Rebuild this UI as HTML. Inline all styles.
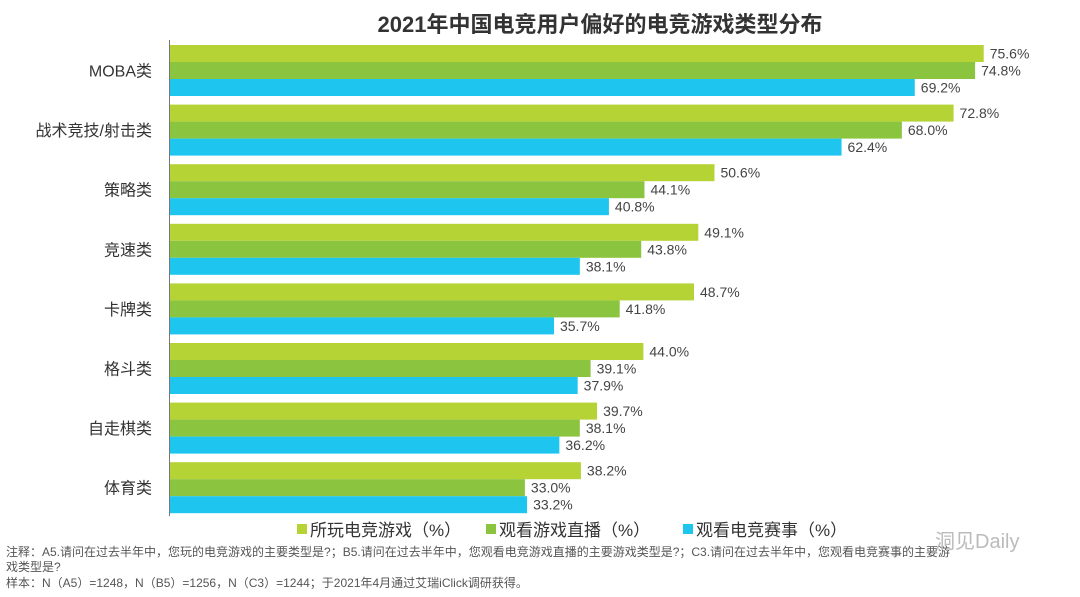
<!DOCTYPE html>
<html><head><meta charset="utf-8"><style>
body{margin:0;background:#fff;width:1080px;height:592px;overflow:hidden;font-family:"Liberation Sans","Noto Sans CJK SC",sans-serif;}
svg text{font-family:"Liberation Sans","Noto Sans CJK SC",sans-serif;}
</style></head><body>
<svg id="chart" width="1080" height="592">
<text x="600" y="32" text-anchor="middle" font-size="22" font-weight="bold" fill="#333">2021年中国电竞用户偏好的电竞游戏类型分布</text>
<g id="bars"></g>
<line x1="169.5" y1="40" x2="169.5" y2="516" stroke="#777" stroke-width="1"/>
<g font-size="17" fill="#333">
<rect x="297" y="524" width="10" height="10" fill="#b5d334"/>
<text x="310" y="536">所玩电竞游戏（%）</text>
<rect x="486" y="524" width="10" height="10" fill="#8bc43f"/>
<text x="499" y="536">观看游戏直播（%）</text>
<rect x="683" y="524" width="10" height="10" fill="#1ec6ef"/>
<text x="696" y="536">观看电竞赛事（%）</text>
</g>
<g font-size="12" fill="#555">
<text x="6" y="556">注释：A5.请问在过去半年中，您玩的电竞游戏的主要类型是?；B5.请问在过去半年中，您观看电竞游戏直播的主要游戏类型是?；C3.请问在过去半年中，您观看电竞赛事的主要游</text>
<text x="6" y="571">戏类型是?</text>
<text x="6" y="587">样本：N（A5）=1248，N（B5）=1256，N（C3）=1244；于2021年4月通过艾瑞iClick调研获得。</text>
</g>
<text x="935" y="548" font-size="20" fill="#bbb">洞见Daily</text>
</svg>
<script>
const categories=["MOBA类","战术竞技/射击类","策略类","竞速类","卡牌类","格斗类","自走棋类","体育类"];
const playValues=[75.6,72.8,50.6,49.1,48.7,44.0,39.7,38.2];
const streamValues=[74.8,68.0,44.1,43.8,41.8,39.1,38.1,33.0];
const esportsValues=[69.2,62.4,40.8,38.1,35.7,37.9,36.2,33.2];
const x0=169.5, pxPer=10.77, topY=45, pitch=59.6, bh=17;
const xScale=v=>v*pxPer;
const yScale=i=>topY+i*pitch;
const g=document.getElementById('bars');
const ns="http://www.w3.org/2000/svg";
const series=[[playValues,"#b5d334","play"],[streamValues,"#8bc43f","stream"],[esportsValues,"#1ec6ef","esports"]];
categories.forEach((c,i)=>{
  const t=document.createElementNS(ns,'text');
  t.setAttribute('x',152);t.setAttribute('y',yScale(i)+bh*1.5+6);
  t.setAttribute('text-anchor','end');t.setAttribute('font-size','16');t.setAttribute('fill','#333');
  t.textContent=c;
  
  
  g.appendChild(t);
  series.forEach((s,j)=>{
    const v=s[0][i];const y=yScale(i)+j*bh;
    const r=document.createElementNS(ns,'rect');
    r.setAttribute('x',x0);r.setAttribute('y',y);r.setAttribute('width',xScale(v));r.setAttribute('height',bh);r.setAttribute('fill',s[1]);
    
    
    g.appendChild(r);
    const l=document.createElementNS(ns,'text');
    l.setAttribute('x',x0+xScale(v)+6);l.setAttribute('y',y+bh/2+5);
    l.setAttribute('font-size','14');l.setAttribute('fill','#444');
    l.textContent=v.toFixed(1)+'%';
    
    
    g.appendChild(l);
  });
});
</script>
</body></html>
